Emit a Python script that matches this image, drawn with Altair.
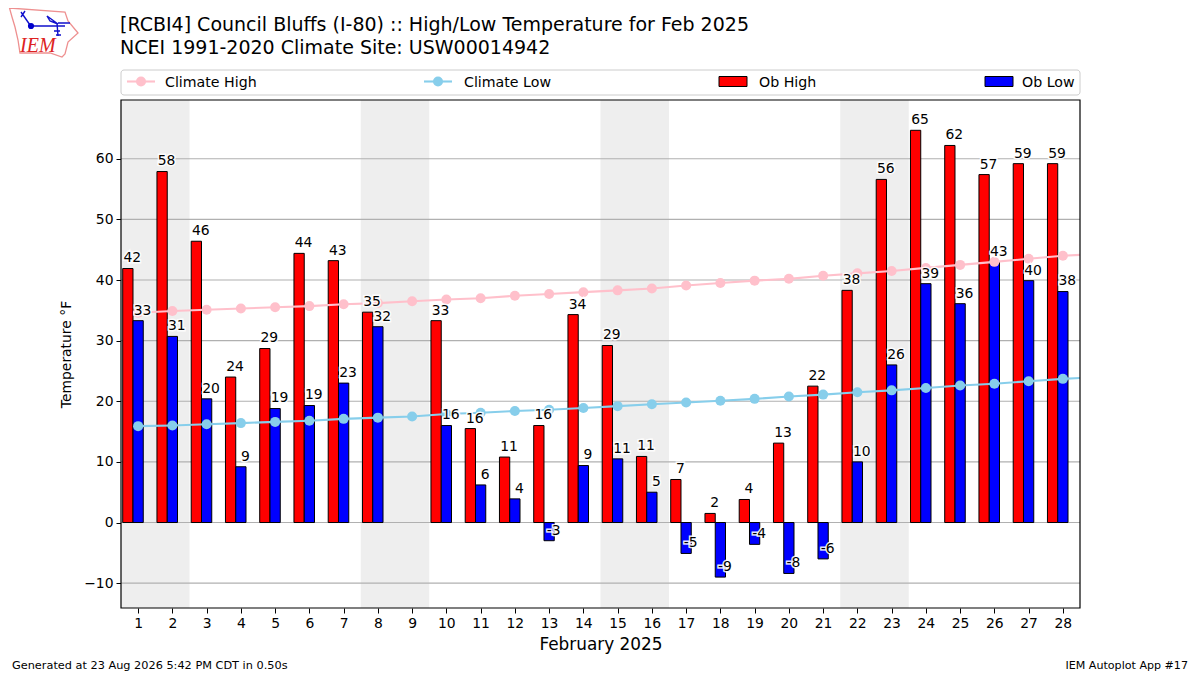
import altair as alt
import pandas as pd

# ---- data -------------------------------------------------------------
days = list(range(1, 29))
ob_high = [41.9, 57.9, 46.4, 24.0, 28.7, 44.4, 43.2, 34.7, None, 33.3, 15.5, 10.8, 16.0, 34.3,
           29.2, 10.9, 7.1, 1.5, 3.8, 13.1, 22.5, 38.3, 56.6, 64.7, 62.2, 57.4, 59.2, 59.2]
ob_low = [33.3, 30.7, 20.4, 9.2, 18.8, 19.3, 23.0, 32.3, None, 16.0, 6.2, 3.9, -3.0, 9.4,
          10.5, 5.0, -5.1, -9.0, -3.6, -8.4, -6.0, 10.0, 26.0, 39.4, 36.1, 43.0, 39.9, 38.1]
high_labels = [42, 58, 46, 24, 29, 44, 43, 35, None, 33, 16, 11, 16, 34,
               29, 11, 7, 2, 4, 13, 22, 38, 56, 65, 62, 57, 59, 59]
low_labels = [33, 31, 20, 9, 19, 19, 23, 32, None, 16, 6, 4, -3, 9,
              11, 5, -5, -9, -4, -8, -6, 10, 26, 39, 36, 43, 40, 38]
clim_days = list(range(1, 30))
clim_high = [34.6, 34.9, 35.1, 35.3, 35.5, 35.7, 36.0, 36.2, 36.5, 36.8, 37.0, 37.4, 37.7, 38.0, 38.3,
             38.6, 39.1, 39.5, 39.9, 40.2, 40.7, 41.1, 41.5, 42.0, 42.5, 43.0, 43.5, 44.0, 44.3]
clim_low = [15.9, 16.0, 16.2, 16.4, 16.6, 16.8, 17.1, 17.3, 17.5, 17.9, 18.1, 18.4, 18.6, 18.9, 19.2,
            19.5, 19.8, 20.1, 20.4, 20.8, 21.1, 21.5, 21.8, 22.2, 22.6, 22.9, 23.3, 23.7, 24.0]
shade_start = [0.5, 7.5, 14.5, 21.5]
shade_end = [2.5, 9.5, 16.5, 23.5]
y_ticks = [-10, 0, 10, 20, 30, 40, 50, 60]
title_lines = ["[RCBI4] Council Bluffs (I-80) :: High/Low Temperature for Feb 2025",
               "NCEI 1991-2020 Climate Site: USW00014942"]

FONT = "DejaVu Sans"
W, H = 959, 508
X_SCALE = alt.Scale(domain=[0.5, 28.5], nice=False, zero=False)
Y_SCALE = alt.Scale(domain=[-14.1, 69.7], nice=False, zero=False)
X_AXIS = alt.Axis(
    values=days, format="d", title="February 2025", grid=False, domain=False,
    tickColor="black", tickSize=5, tickWidth=1, labelColor="black", labelFont=FONT,
    labelFontSize=13.9, labelPadding=3, labelOverlap=False, labelFlush=False,
    titleFont=FONT, titleFontSize=16.9, titleFontWeight="normal", titleColor="black",
    titlePadding=7)
Y_AXIS = alt.Axis(
    values=y_ticks, format="d", title="Temperature °F", grid=False, domain=False,
    tickColor="black", tickSize=5, tickWidth=1, labelColor="black", labelFont=FONT,
    labelFontSize=13.9, labelPadding=3, labelOverlap=False, labelFlush=False,
    titleFont=FONT, titleFontSize=13.9, titleFontWeight="normal", titleColor="black",
    titlePadding=10)


def px(v):
    return alt.value(v - 121)


def py(v):
    return alt.value(v - 100)


df = pd.DataFrame({"day": days, "high": ob_high, "low": ob_low,
                   "hl": high_labels, "ll": low_labels}).dropna()
df["hl"] = df["hl"].astype(int).astype(str)
df["ll"] = df["ll"].astype(int).astype(str)
clim = pd.DataFrame({"day": clim_days, "chigh": clim_high, "clow": clim_low})
shade = pd.DataFrame({"start": shade_start, "end": shade_end})
grid = pd.DataFrame({"v": y_ticks})

xq = lambda f: alt.X(f, type="quantitative", scale=X_SCALE, axis=X_AXIS)
yq = lambda f: alt.Y(f, type="quantitative", scale=Y_SCALE, axis=Y_AXIS)

# ---- plot layers ------------------------------------------------------
shading = alt.Chart(shade).mark_rect(color="#eeeeee", strokeWidth=0).encode(
    x=xq("start"), x2="end:Q")

grid_rules = alt.Chart(grid).mark_rule(color="#b0b0b0", strokeWidth=1.1).encode(y=yq("v"))

base = alt.Chart(df).transform_calculate(
    r0="datum.day - 0.45", r1="datum.day - 0.15", b1="datum.day + 0.15",
    rc="datum.day - 0.30", ht="datum.high + 1", lt="datum.low + 1", zero="0")

bars_high = base.mark_rect(color="red", stroke="black", strokeWidth=1).encode(
    x=xq("r0"), x2="r1:Q", y=yq("high"), y2="zero:Q")
bars_low = base.mark_rect(color="blue", stroke="black", strokeWidth=1).encode(
    x=xq("r1"), x2="b1:Q", y=yq("low"), y2="zero:Q")


def clim_layers(field, color):
    c = alt.Chart(clim)
    return [c.mark_line(color=color, strokeWidth=2.1, clip=True).encode(x=xq("day"), y=yq(field)),
            c.mark_point(color=color, filled=True, opacity=1, size=100, clip=True).encode(
                x=xq("day"), y=yq(field))]


def label_layers(xf, yf, tf):
    opts = dict(font=FONT, fontSize=13.9, baseline="alphabetic", align="center", dx=4.5)
    return [base.mark_text(stroke="white", strokeWidth=3, strokeOpacity=0.9, color="white", **opts).encode(
                x=xq(xf), y=yq(yf), text=alt.Text(tf, type="nominal")),
            base.mark_text(color="black", **opts).encode(
                x=xq(xf), y=yq(yf), text=alt.Text(tf, type="nominal"))]


one = pd.DataFrame({"a": [0]})

frame = alt.Chart(one).mark_rect(filled=False, stroke="black", strokeWidth=1.2, opacity=1, strokeOpacity=1).encode(
    x=px(121), x2=px(1080), y=py(100), y2=py(608))

# ---- legend strip -----------------------------------------------------
box = alt.Chart(one).mark_rect(fill="white", stroke="#cccccc", strokeWidth=1, cornerRadius=3).encode(
    x=px(121), x2=px(1080), y=py(70), y2=py(95))
leg = [box]
for x0, color, label, lx in [(127, "pink", "Climate High", 165), (424, "skyblue", "Climate Low", 464)]:
    leg.append(alt.Chart(one).mark_rule(color=color, strokeWidth=2.1).encode(
        x=px(x0), x2=px(x0 + 28), y=py(81.5)))
    leg.append(alt.Chart(one).mark_point(color=color, filled=True, opacity=1, size=100).encode(
        x=px(x0 + 14), y=py(81.5)))
    leg.append(alt.Chart(one).mark_text(text=label, font=FONT, fontSize=14.2, align="left",
                                        baseline="alphabetic", color="black").encode(x=px(lx), y=py(86.5)))
for x0, color, label, lx in [(719, "red", "Ob High", 759), (985, "blue", "Ob Low", 1022)]:
    leg.append(alt.Chart(one).mark_rect(color=color, stroke="black", strokeWidth=1).encode(
        x=px(x0), x2=px(x0 + 28), y=py(76.5), y2=py(86.5)))
    leg.append(alt.Chart(one).mark_text(text=label, font=FONT, fontSize=14.2, align="left",
                                        baseline="alphabetic", color="black").encode(x=px(lx), y=py(86.5)))

# ---- title ------------------------------------------------------------
titles = [
    alt.Chart(one).mark_text(text=title_lines[0], font=FONT, fontSize=19, align="left",
                             baseline="alphabetic", color="black").encode(x=px(120), y=py(31)),
    alt.Chart(one).mark_text(text=title_lines[1], font=FONT, fontSize=19, align="left",
                             baseline="alphabetic", color="black").encode(x=px(120), y=py(54)),
]

# ---- logo -------------------------------------------------------------
iowa = "M -34.5 -24 L 21 -20 L 24 -11 L 34 1 L 24 10 L 21 22 L 18 25 L 6 21 L -24 21 L -26 8 L -29 -5 L -32 -15 Z"
barb = ("M -13 -6 L 21 -6 M -23 -20 L -14 -7 M -23 -15 L -19 -21 M 3 -16 L 14 -8 L 6 -11 Z "
        "M 14 -9 L 26 -9 M 13 -9 L 14 4 M 10 -1 L 16 -1 M 12 3 L 17 3")
logo = [
    alt.Chart(one).mark_point(shape=iowa, size=4, filled=False, opacity=1, color="#ee9090", strokeWidth=1.3).encode(
        x=px(44), y=py(32)),
    alt.Chart(one).mark_point(shape=barb, size=4, filled=False, opacity=1, color="#1010cc", strokeWidth=1.4).encode(
        x=px(44), y=py(32)),
    alt.Chart(one).mark_point(shape="circle", size=38, filled=True, opacity=1, color="#0000cc").encode(
        x=px(31), y=py(26)),
    alt.Chart(one).mark_text(text="IEM", font="Liberation Serif", fontStyle="italic", fontSize=20,
                             align="left", baseline="alphabetic", color="#dd2222").encode(x=px(20), y=py(52)),
]

# ---- footer -----------------------------------------------------------
footer = [
    alt.Chart(one).mark_text(text="Generated at 23 Aug 2026 5:42 PM CDT in 0.50s", font=FONT, fontSize=11.3,
                             align="left", baseline="alphabetic", color="black").encode(x=px(12), y=py(669)),
    alt.Chart(one).mark_text(text="IEM Autoplot App #17", font=FONT, fontSize=11.1,
                             align="right", baseline="alphabetic", color="black").encode(x=px(1188), y=py(669)),
]

layers = ([shading, grid_rules, bars_high, bars_low]
          + clim_layers("chigh", "pink") + clim_layers("clow", "skyblue")
          + label_layers("rc", "ht", "hl") + label_layers("day", "lt", "ll")
          + [frame] + leg + titles + logo + footer)

chart = alt.layer(*layers).resolve_scale(x="shared", y="shared").properties(
    width=W, height=H,
    padding={"left": 113, "top": 92, "right": 112, "bottom": 66},
    autosize=alt.AutoSizeParams(type="none"),
    background="white",
).configure_view(stroke=None)

chart.save("out.html", embed_options={"renderer": "svg", "actions": False})
